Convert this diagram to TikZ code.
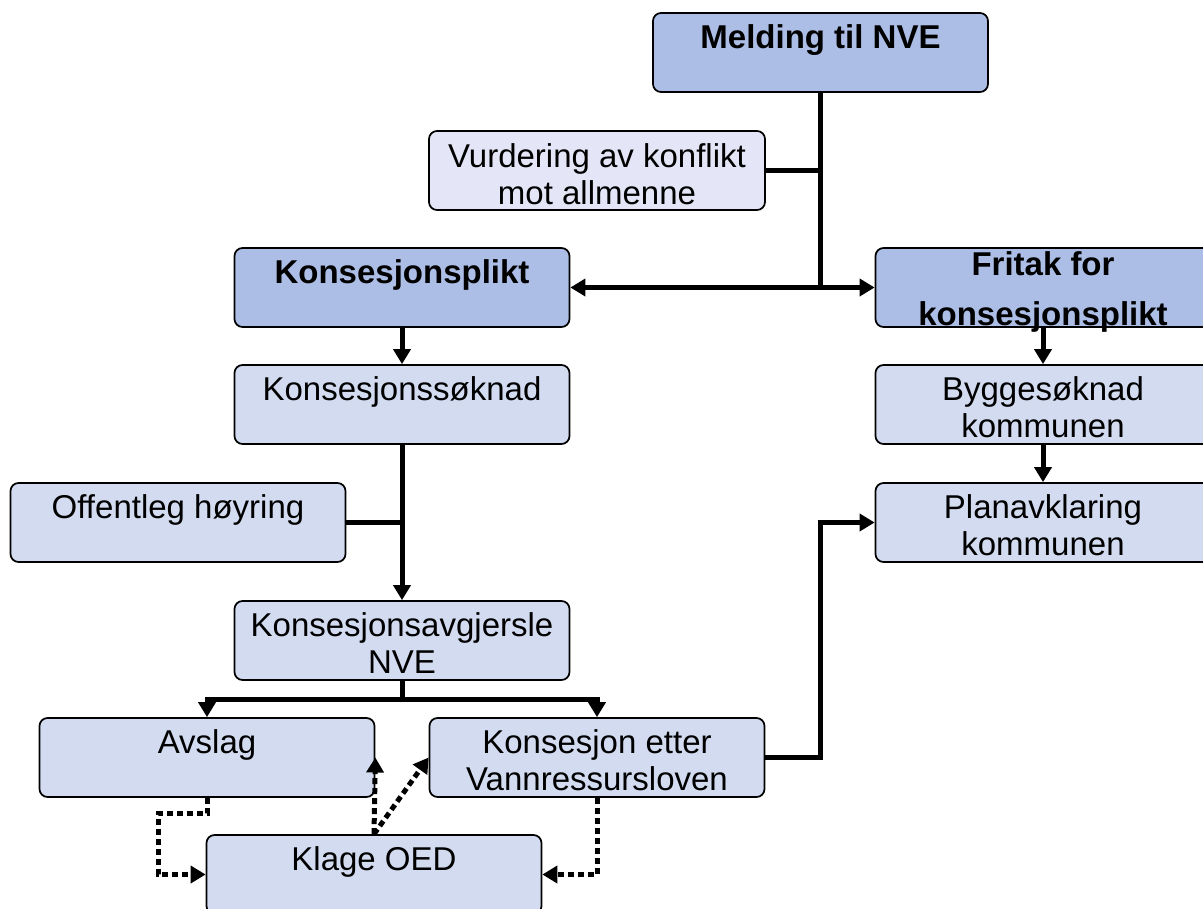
\documentclass[tikz,border=0pt]{standalone}
\usepackage{fontspec}
\setmainfont{Liberation Sans}
\usepackage{xcolor}
\usepackage{tikz}
\usetikzlibrary{arrows.meta}

\definecolor{headblue}{RGB}{172,190,230}
\definecolor{boxblue}{RGB}{210,219,240}
\definecolor{notelilac}{RGB}{228,230,247}

\newcommand{\boxtxt}[1]{\parbox[t]{245pt}{\centering #1}}

\begin{document}
\begin{tikzpicture}[x=0.75pt, y=-0.75pt,
  box/.style={draw, line width=1.3pt, rounded corners=6pt, fill=#1,
              minimum width=251.25pt, inner sep=0pt,
              text height=26.25pt, text depth=33pt,
              font=\fontsize{24.75}{27.75}\selectfont},
  box/.default=boxblue,
  head/.style={box=headblue, font=\fontsize{24.75}{27.75}\selectfont\bfseries},
  >={Triangle[length=11.25pt, width=12.75pt]},
  conn/.style={line width=3.75pt},
  arr/.style={conn, ->},
  dotarr/.style={arr, dash pattern=on 4.5pt off 3pt},
]
\clip (0,0) rectangle (1203,908);
% Nodes
\node[head]   (meld)   at (820.5,52.5)  {\boxtxt{Melding til NVE}};
\node[box=notelilac, minimum width=252pt, text height=27pt, text depth=32.25pt]
              (vurd)   at (597,170.5)   {\boxtxt{Vurdering av konflikt\\mot allmenne}};
\node[head]   (plikt)  at (402,287.5)   {\boxtxt{Konsesjonsplikt}};
\node[head, text height=20.25pt, text depth=39pt]
              (fritak) at (1043,287.5)  {\boxtxt{Fritak for\\[10pt]konsesjonsplikt}};
\node[box]    (ksok)   at (402,404.5)   {\boxtxt{Konsesjonssøknad}};
\node[box]    (bygg)   at (1043,404.5)  {\boxtxt{Byggesøknad\\kommunen}};
\node[box]    (offent) at (178,522.5)   {\boxtxt{Offentleg høyring}};
\node[box]    (plan)   at (1043,522.5)  {\boxtxt{Planavklaring\\kommunen}};
\node[box]    (avgj)   at (402,640.5)   {\boxtxt{Konsesjonsavgjersle\\NVE}};
\node[box]    (avslag) at (207,757.5)   {\boxtxt{Avslag}};
\node[box]    (kvann)  at (597,757.5)   {\boxtxt{Konsesjon etter\\Vannressursloven}};
\node[box]    (klage)  at (374,874.5)   {\boxtxt{Klage OED}};
% Arrows
\draw[conn] (meld.south) -- (meld.south |- plikt.east);
\draw[conn] (vurd.east) -- (vurd.east -| meld.south);
\draw[conn, <->] (plikt.east) -- (fritak.west);
\draw[arr] (plikt.south) -- (ksok.north);
\draw[arr] (fritak.south) -- (bygg.north);
\draw[arr] (bygg.south) -- (plan.north);
\draw[arr] (ksok.south) -- (avgj.north);
\draw[conn] (offent.east) -- (offent.east -| ksok.south);
\draw[arr] (avgj.south) -- ++(0,19) -| (avslag.north);
\draw[arr] (avgj.south) -- ++(0,19) -| (kvann.north);
\draw[arr] (kvann.east) -- (kvann.east -| meld.south) |- (plan.west);
% Klage
\draw[dotarr] (avslag.south) -- ++(0,16) -- ++(-49,0) |- (klage.west);
\draw[dotarr] (klage.north) -- (avslag.east);
\draw[dotarr] (klage.north) -- (kvann.west);
\draw[dotarr] (kvann.south) |- (klage.east);
\end{tikzpicture}
\end{document}
